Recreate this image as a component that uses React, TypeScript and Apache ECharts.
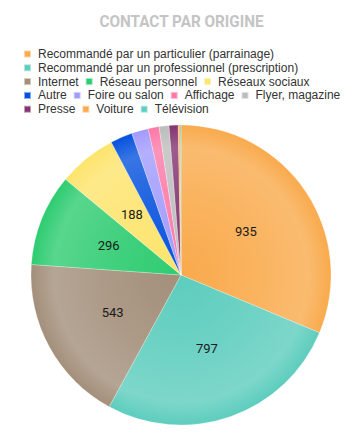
import React, { useEffect, useRef } from "react";
import * as echarts from "echarts";

const categories = [
  "Recommandé par un particulier (parrainage)",
  "Recommandé par un professionnel (prescription)",
  "Internet",
  "Réseau personnel",
  "Réseaux sociaux",
  "Autre",
  "Foire ou salon",
  "Affichage",
  "Flyer, magazine",
  "Presse",
  "Voiture",
  "Télévision",
];
const values = [935, 797, 543, 296, 188, 71, 54, 35, 32, 29, 6, 3];
const colors = [
  "#f9aa4c", "#5dcdbd", "#a38f7a", "#2ecc71", "#fde46c", "#0652dd",
  "#a29bfe", "#fd79a8", "#bdbdbd", "#833471", "#f9aa4c", "#5dcdbd",
];
const legendRows = [[0], [1], [2, 3, 4], [5, 6, 7, 8], [9, 10, 11]];
const title = "CONTACT PAR ORIGINE";

function lighten(hex: string, t: number) {
  const n = parseInt(hex.slice(1), 16);
  const r = (n >> 16) & 255, g = (n >> 8) & 255, b = n & 255;
  const f = (c: number) => Math.round(c + (255 - c) * t);
  return `rgb(${f(r)},${f(g)},${f(b)})`;
}

export default function App() {
  const ref = useRef<HTMLDivElement>(null);
  useEffect(() => {
    document.body.style.margin = "0";
    const chart = echarts.init(ref.current!, undefined, { renderer: "svg" });
    const cx = 181, cy = 275, R = 150;
    const legends = legendRows.map((row, i) => ({
      left: 23,
      top: 48 + i * 13.8,
      padding: 0,
      orient: "horizontal" as const,
      itemWidth: 7,
      itemHeight: 7,
      itemGap: 6,
      icon: "rect",
      selectedMode: false,
      textStyle: {
        fontFamily: "'Liberation Sans', Arial, sans-serif",
        fontSize: 12,
        color: "#333",
        lineHeight: 12,
        padding: [0, 0, 0, 2],
      },
      data: row.map((k) => ({ name: categories[k], itemStyle: { color: colors[k] } })),
    }));
    chart.setOption({
      animation: false,
      graphic: [
        {
          type: "text",
          x: 181.5,
          y: 21,
          scaleX: 0.9,
          silent: true,
          style: {
            text: title,
            font: "bold 17px Roboto, sans-serif",
            fill: "#c4c4c4",
            textAlign: "center",
            textVerticalAlign: "middle",
          },
        },
      ],
      legend: legends,
      series: [
        {
          type: "pie",
          center: [cx, cy],
          radius: [0, R],
          startAngle: 90,
          clockwise: true,
          avoidLabelOverlap: false,
          label: {
            show: true,
            position: "inside",
            fontFamily: "Roboto, sans-serif",
            fontSize: 13,
            color: "#1a1a1a",
            formatter: (p: any) => (p.value > 100 ? String(p.value) : ""),
          },
          labelLine: { show: false },
          itemStyle: { borderColor: "rgba(255,255,255,0.5)", borderWidth: 0.5 },
          emphasis: { disabled: true },
          data: categories.map((name, i) => ({
            name,
            value: values[i],
            itemStyle: {
              color: {
                type: "radial",
                x: cx,
                y: cy,
                r: R,
                global: true,
                colorStops: [
                  { offset: 0, color: colors[i] },
                  { offset: 0.5, color: lighten(colors[i], 0.1) },
                  { offset: 0.85, color: lighten(colors[i], 0.2) },
                  { offset: 1, color: colors[i] },
                ],
              },
            },
          })),
        },
      ],
    });
    return () => chart.dispose();
  }, []);
  return (
    <div
      ref={ref}
      style={{ position: "absolute", left: 0, top: 0, width: 361, height: 443, background: "#fff" }}
    />
  );
}
